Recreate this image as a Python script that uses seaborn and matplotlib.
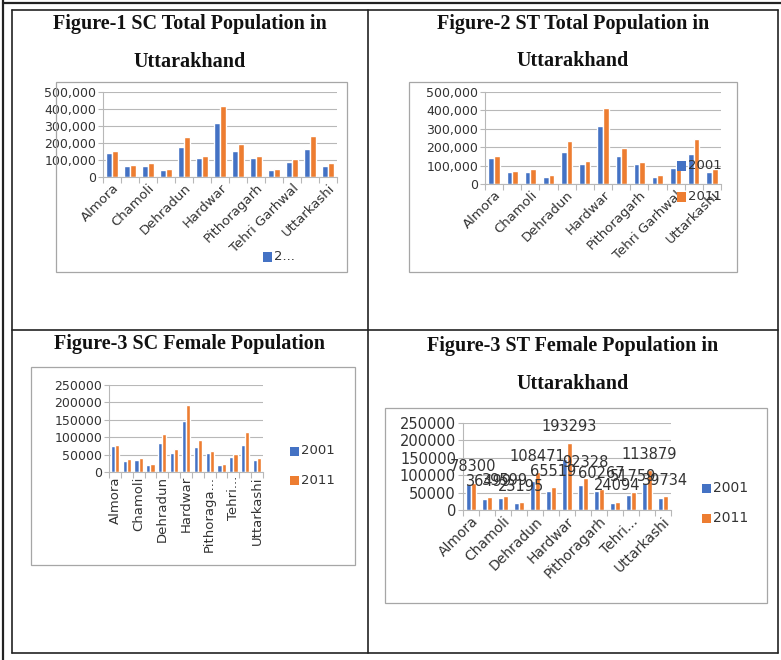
import matplotlib
matplotlib.use('Agg')
import matplotlib.pyplot as plt
import seaborn as sns
import pandas as pd
from matplotlib.patches import Rectangle
from matplotlib.lines import Line2D
from matplotlib.ticker import FuncFormatter

# districts of Uttarakhand (Excel only shows every second name)
districts = ['Almora', 'Bageshwar', 'Chamoli', 'Champawat', 'Dehradun', 'Garhwal',
             'Hardwar', 'Nainital', 'Pithoragarh', 'Rudraprayag', 'Tehri Garhwal',
             'Udham Singh Nagar', 'Uttarkashi']
years = ['2001', '2011']

total_2001 = [144000, 65000, 67000, 40000, 176000, 109000, 316000, 152000, 109000, 40000, 89000, 164000, 67000]
total_2011 = [154000, 71000, 81000, 49000, 233000, 123000, 415000, 196000, 121000, 49000, 103000, 243000, 83000]

female_2001 = [74000, 33000, 35000, 19000, 84000, 55000, 147000, 72000, 54000, 21000, 44000, 77000, 35000]
female_2011 = [78300, 36499, 39599, 23195, 108471, 65519, 193293, 92328, 60267, 24094, 51759, 113879, 39734]

labels_full = ['Almora', 'Chamoli', 'Dehradun', 'Hardwar', 'Pithoragarh', 'Tehri Garhwal', 'Uttarkashi']
labels_fig3 = ['Almora', 'Chamoli', 'Dehradun', 'Hardwar', 'Pithoraga...', 'Tehri...', 'Uttarkashi']
labels_fig4 = ['Almora', 'Chamoli', 'Dehradun', 'Hardwar', 'Pithoragarh', 'Tehri...', 'Uttarkashi']

W, H = 781, 660
BLUE = '#4472C4'
ORANGE = '#ED7D31'
GRID = '#b8b8b8'
TXT = '#333333'

sns.set_theme(style='white')
plt.rcParams['font.family'] = ['DejaVu Sans']

fig = plt.figure(figsize=(W / 100, H / 100), dpi=100)


def px(x0, y0, x1, y1):
    return [x0 / W, 1 - y1 / H, (x1 - x0) / W, (y1 - y0) / H]


def hline(x0, x1, y, lw=1.2):
    fig.add_artist(Line2D([x0 / W, x1 / W], [1 - y / H, 1 - y / H], color='#222222', lw=lw))


def vline(x, y0, y1, lw=1.2):
    fig.add_artist(Line2D([x / W, x / W], [1 - y0 / H, 1 - y1 / H], color='#222222', lw=lw))


def chart_box(x0, y0, x1, y1):
    l, b, w, h = px(x0, y0, x1, y1)
    fig.add_artist(Rectangle((l, b), w, h, transform=fig.transFigure, fill=False,
                             edgecolor='#a6a6a6', lw=0.9))


def legend_item(x, y, color, label, fs):
    fig.add_artist(Rectangle((x / W, 1 - (y + 4.5) / H), 9 / W, 9 / H,
                             transform=fig.transFigure, color=color, lw=0))
    fig.text((x + 11) / W, 1 - y / H, label, fontsize=fs, va='center', color=TXT)


def title(cx, baseline, text):
    fig.text(cx / W, 1 - baseline / H, text, ha='center', va='baseline',
             fontfamily='Liberation Serif', fontweight='bold', fontsize=14.5, color='#111111')


def bar_panel(box, v2001, v2011, ymax, step, commas, labels, rot, yfs, xfs, barw, values=False):
    ax = fig.add_axes(px(*box))
    df = pd.DataFrame({
        'district': districts * 2,
        'year': [years[0]] * len(districts) + [years[1]] * len(districts),
        'population': v2001 + v2011,
    })
    sns.barplot(data=df, x='district', y='population', hue='year',
                palette=[BLUE, ORANGE], width=barw, saturation=1,
                errorbar=None, legend=False, ax=ax)
    ax.set_xlim(-0.5, len(districts) - 0.5)
    ax.set_ylim(0, ymax)
    ax.set_yticks(range(0, ymax + 1, step))
    if commas:
        ax.yaxis.set_major_formatter(FuncFormatter(lambda v, p: f'{int(v):,}'))
    else:
        ax.yaxis.set_major_formatter(FuncFormatter(lambda v, p: f'{int(v)}'))
    ax.set_xlabel('')
    ax.set_ylabel('')
    ax.yaxis.grid(True, color=GRID, lw=0.8)
    ax.set_axisbelow(True)
    for s in ['top', 'right']:
        ax.spines[s].set_visible(False)
    for s in ['left', 'bottom']:
        ax.spines[s].set_color(GRID)
        ax.spines[s].set_linewidth(0.8)

    ticklabels = [''] * len(districts)
    for i, lab in enumerate(labels):
        ticklabels[2 * i] = lab
    ax.set_xticks(range(len(districts)))
    ax.set_xticklabels(ticklabels)
    ax.set_xticks([i - 0.5 for i in range(len(districts) + 1)], minor=True)
    ax.tick_params(axis='x', which='major', length=0, labelsize=xfs, labelcolor=TXT, pad=3)
    ax.tick_params(axis='x', which='minor', length=4, width=0.8, color=GRID, direction='out', bottom=True)
    ax.tick_params(axis='y', length=3.5, width=0.8, color=GRID, labelsize=yfs, labelcolor=TXT, pad=1.5, left=True)
    for t in ax.get_xticklabels():
        if rot == 45:
            t.set_rotation(45)
            t.set_ha('right')
            t.set_rotation_mode('anchor')
        else:
            t.set_rotation(90)
    if values:
        ax.bar_label(ax.containers[1], labels=[str(v) for v in v2011], padding=6,
                     fontsize=yfs, color=TXT, clip_on=False)
    return ax


# table borders
vline(3, 0, 660, lw=1.6)
hline(3, 781, 3, lw=1.6)
vline(12, 10, 653)
hline(12, 778, 10)
vline(778, 10, 653)
hline(12, 778, 653)
vline(368, 10, 653)
hline(12, 778, 330)

# titles
title(190, 29, 'Figure-1 SC Total Population in')
title(190, 67, 'Uttarakhand')
title(573, 29, 'Figure-2 ST Total Population in')
title(573, 66, 'Uttarakhand')
title(189, 349, 'Figure-3 SC Female Population')
title(573, 351, 'Figure-3 ST Female Population in')
title(573, 389, 'Uttarakhand')

# chart frames
chart_box(56, 82, 347, 272)
chart_box(409, 82, 737, 272)
chart_box(31, 367, 355, 565)
chart_box(385, 408, 767, 603)

# Figure-1
bar_panel((103, 92, 337, 177), total_2001, total_2011, 500000, 100000, True,
          labels_full, 45, 9, 9.5, 0.62)
legend_item(263, 257, BLUE, '2...', 9.5)

# Figure-2
bar_panel((485, 92, 721, 184), total_2001, total_2011, 500000, 100000, True,
          labels_full, 45, 9, 9.5, 0.62)
legend_item(677, 166, BLUE, '2001', 9.5)
legend_item(677, 197, ORANGE, '2011', 9.5)

# Figure-3 SC female
bar_panel((109, 385, 263, 472), female_2001, female_2011, 250000, 50000, False,
          labels_fig3, 90, 9, 9.5, 0.7)
legend_item(290, 451, BLUE, '2001', 9.5)
legend_item(290, 480, ORANGE, '2011', 9.5)

# Figure-3 ST female (with data labels)
bar_panel((463, 423, 671, 510), female_2001, female_2011, 250000, 50000, False,
          labels_fig4, 45, 10.5, 10, 0.62, values=True)
legend_item(702, 488, BLUE, '2001', 10)
legend_item(702, 518, ORANGE, '2011', 10)

fig.savefig('out.png', dpi=100)
